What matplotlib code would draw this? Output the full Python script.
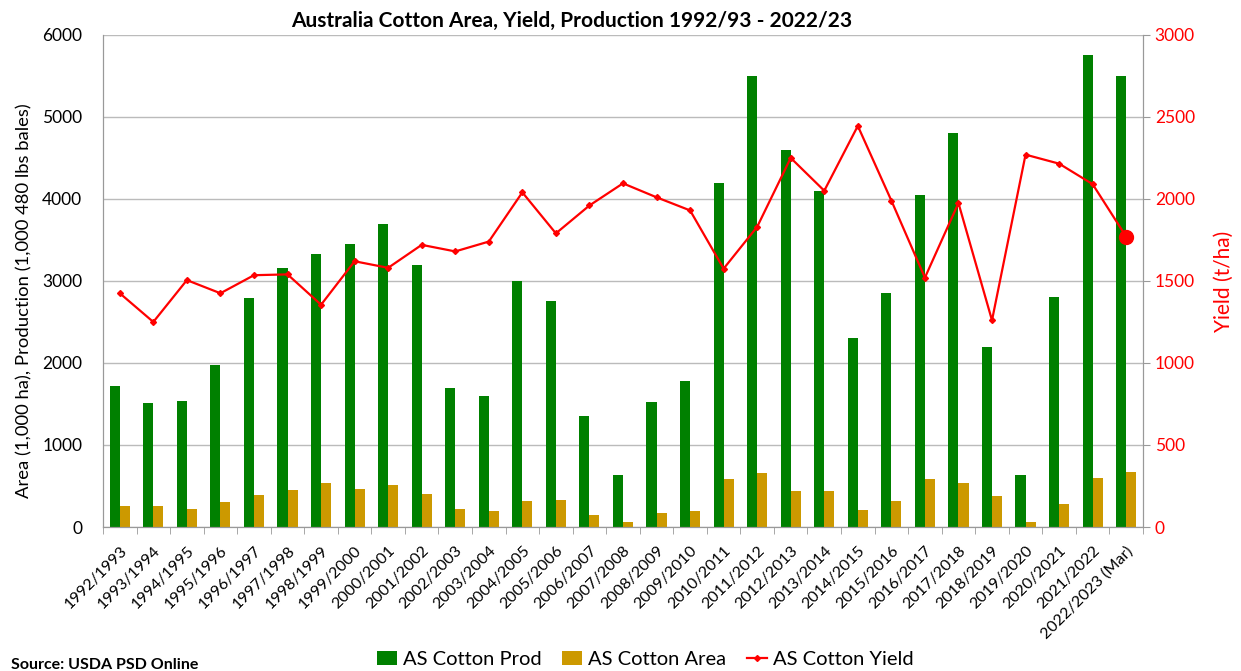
import numpy as np
import matplotlib.pyplot as plt

# data
seasons = ['1992/1993', '1993/1994', '1994/1995', '1995/1996', '1996/1997', '1997/1998',
           '1998/1999', '1999/2000', '2000/2001', '2001/2002', '2002/2003', '2003/2004',
           '2004/2005', '2005/2006', '2006/2007', '2007/2008', '2008/2009', '2009/2010',
           '2010/2011', '2011/2012', '2012/2013', '2013/2014', '2014/2015', '2015/2016',
           '2016/2017', '2017/2018', '2018/2019', '2019/2020', '2020/2021', '2021/2022',
           '2022/2023 (Mar)']
prod = [1720, 1510, 1540, 1970, 2790, 3160, 3330, 3450, 3700, 3200, 1700, 1600,
        3000, 2750, 1350, 630, 1530, 1780, 4200, 5500, 4600, 4100, 2300, 2850,
        4050, 4800, 2200, 630, 2800, 5750, 5500]
area = [260, 260, 225, 300, 395, 447, 532, 465, 510, 405, 225, 200,
        320, 335, 145, 60, 165, 200, 580, 660, 445, 440, 210, 315,
        580, 535, 380, 60, 275, 600, 675]
yld = [1425, 1250, 1505, 1425, 1535, 1540, 1355, 1620, 1580, 1720, 1680, 1740,
       2040, 1790, 1960, 2095, 2010, 1930, 1575, 1830, 2250, 2050, 2445, 1990,
       1520, 1975, 1260, 2270, 2215, 2090, 1770]

plt.rcParams['font.family'] = ['Lato', 'DejaVu Sans']

fig = plt.figure(figsize=(12.41, 6.71), dpi=100)
ax = fig.add_axes([0.083, 0.2146, 0.838, 0.7334])
ax2 = ax.twinx()

x = np.arange(len(seasons))
w = 0.3
b1 = ax.bar(x - w / 2, prod, width=w, color='#008000', label='AS Cotton Prod', zorder=2)
b2 = ax.bar(x + w / 2, area, width=w, color='#CC9900', label='AS Cotton Area', zorder=2)

l1, = ax2.plot(x, yld, color='#FF0000', lw=1.6, marker='D', ms=3, label='AS Cotton Yield', zorder=3)
ax2.plot(x[-1], yld[-1], 'o', color='#FF0000', ms=10, zorder=4)

ax.set_xlim(-0.5, len(seasons) - 0.5)
ax.set_ylim(0, 6000)
ax.set_yticks(range(0, 6001, 1000))
ax2.set_ylim(0, 3000)
ax2.set_yticks(range(0, 3001, 500))

ax.grid(axis='y', color='#BBBBBB', lw=1, zorder=0)
ax.set_axisbelow(True)
for a in (ax, ax2):
    a.spines['top'].set_visible(False)
    a.spines['left'].set_color('#999999')
    a.spines['right'].set_color('#999999')
    a.spines['bottom'].set_color('#999999')

ax.set_xticks(x)
ax.set_xticklabels(seasons, rotation=45, ha='right', rotation_mode='anchor', fontsize=11.5)
ax.tick_params(axis='x', length=0, pad=12)
ax.set_xticks(np.arange(-0.5, len(seasons), 1), minor=True)
ax.tick_params(axis='x', which='minor', length=5, color='#999999')
ax.tick_params(axis='y', length=0, labelsize=12.5, pad=15)
ax2.tick_params(axis='y', length=5, color='#999999', labelsize=12.5, labelcolor='#FF0000')

ax.set_ylabel('Area (1,000 ha), Production (1,000 480 lbs bales)', fontsize=13.3)
ax.yaxis.set_label_coords(-0.068, 0.46)
ax2.set_ylabel('Yield (t/ha)', fontsize=15, color='#FF0000', labelpad=14)
ax.set_title('Australia Cotton Area, Yield, Production 1992/93 - 2022/23',
             fontsize=15, fontweight='bold', pad=6, x=0.451)

fig.legend(handles=[b1, b2, l1], loc='lower center', ncol=3, frameon=False,
           fontsize=14.5, bbox_to_anchor=(0.52, -0.022), handlelength=1.0,
           handletextpad=0.3, columnspacing=1.0)
fig.text(0.009, 0.003, 'Source: USDA PSD Online', fontsize=11.5, fontweight='bold')

fig.savefig('out.png', dpi=100)
